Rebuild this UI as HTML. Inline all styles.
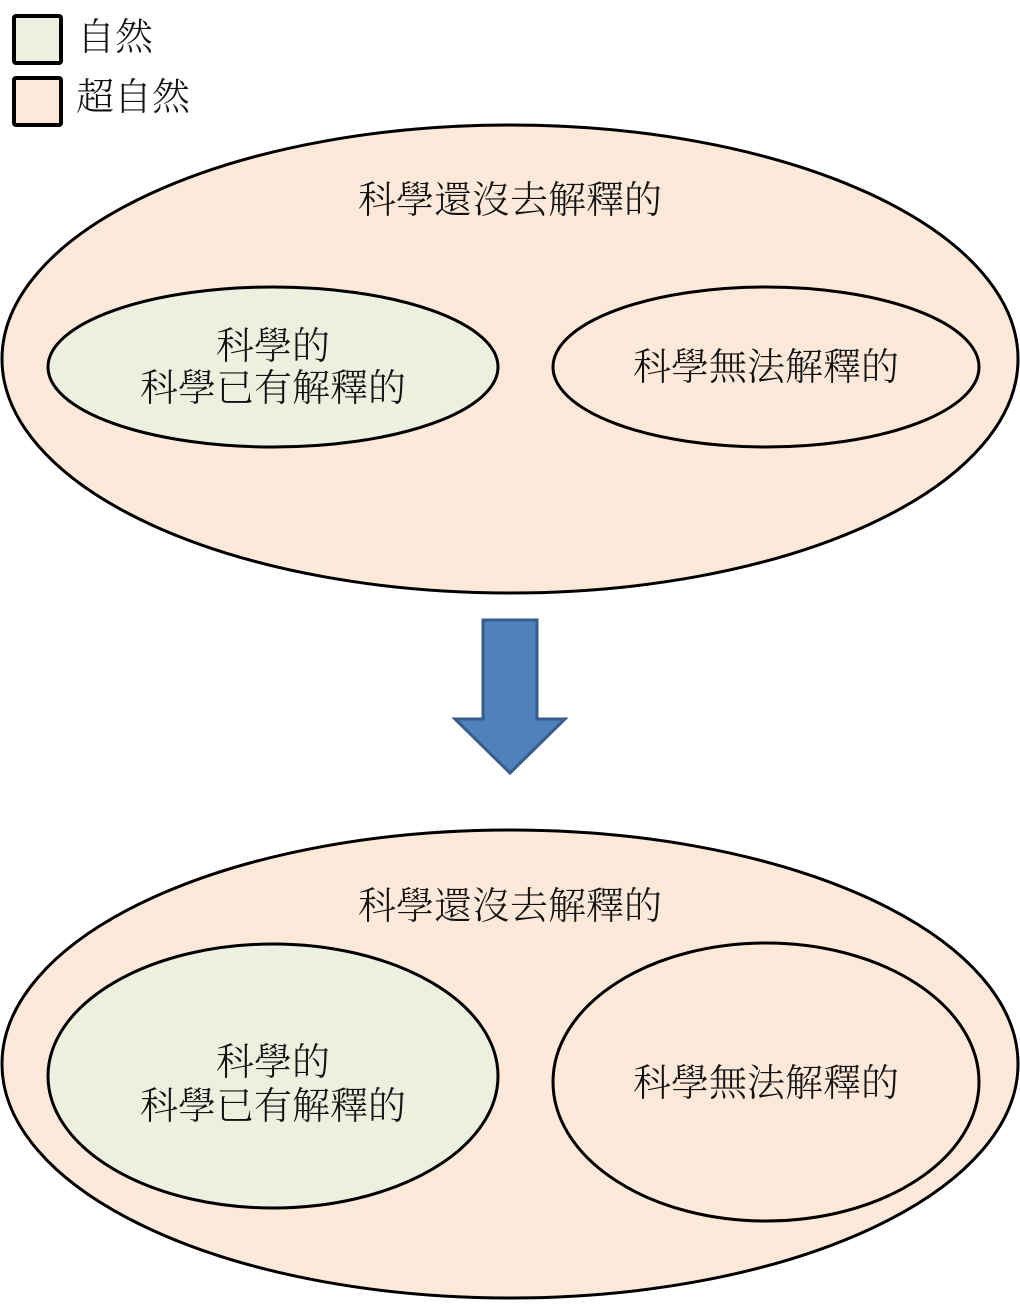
<!DOCTYPE html>
<html><head><meta charset="utf-8"><style>
html,body{margin:0;padding:0;background:#fff;}
svg text{font-family:"Liberation Serif","Noto Serif CJK SC","Noto Sans CJK TC",serif;font-size:38px;font-weight:300;fill:#111;text-anchor:middle;dominant-baseline:central;}
</style></head><body>
<svg width="1020" height="1301" xmlns="http://www.w3.org/2000/svg">
<rect x="14" y="16" width="47" height="47" fill="#EBF1DE" stroke="#000" stroke-width="4" rx="2"/>
<rect x="14" y="78" width="47" height="47" fill="#FDE9D9" stroke="#000" stroke-width="4" rx="2"/>
<text x="115" y="38">自然</text>
<text x="133" y="98">超自然</text>

<ellipse cx="510" cy="359" rx="508" ry="234" fill="#FDE9D9" stroke="#000" stroke-width="3"/>
<ellipse cx="273" cy="367" rx="225" ry="80" fill="#EBF1DE" stroke="#000" stroke-width="3"/>
<ellipse cx="766" cy="367" rx="213" ry="80" fill="#FDE9D9" stroke="#000" stroke-width="3"/>
<text x="510" y="201">科學還沒去解釋的</text>
<text x="273" y="347">科學的</text>
<text x="273" y="389">科學已有解釋的</text>
<text x="766" y="368">科學無法解釋的</text>

<polygon points="483,620 537,620 537,719 565,719 510,773 455,719 483,719" fill="#4F81BD" stroke="#385D8A" stroke-width="3"/>

<ellipse cx="510" cy="1064" rx="508" ry="234" fill="#FDE9D9" stroke="#000" stroke-width="3"/>
<ellipse cx="273" cy="1076" rx="225" ry="132" fill="#EBF1DE" stroke="#000" stroke-width="3"/>
<ellipse cx="766" cy="1082" rx="213" ry="139" fill="#FDE9D9" stroke="#000" stroke-width="3"/>
<text x="510" y="907">科學還沒去解釋的</text>
<text x="273" y="1063">科學的</text>
<text x="273" y="1107">科學已有解釋的</text>
<text x="766" y="1084">科學無法解釋的</text>
</svg>
</body></html>
